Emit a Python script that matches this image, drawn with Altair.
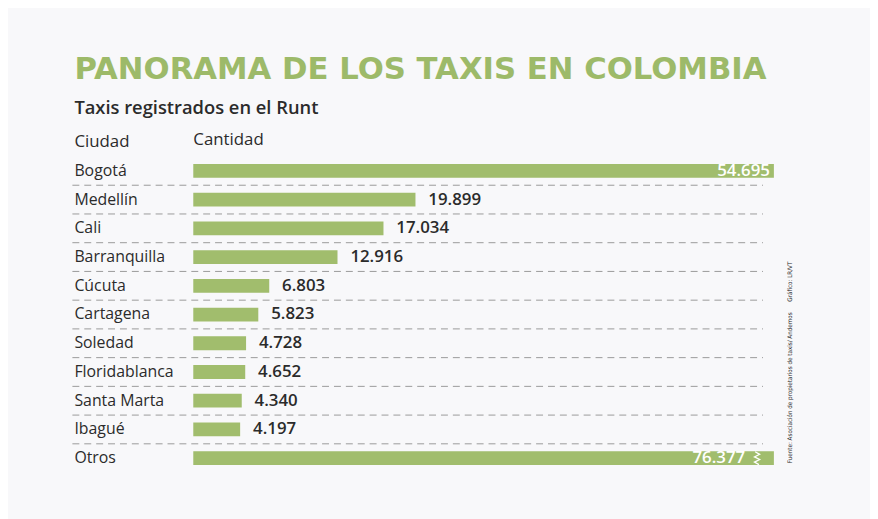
import altair as alt
import pandas as pd

cities = ["Bogotá", "Medellín", "Cali", "Barranquilla", "Cúcuta", "Cartagena",
          "Soledad", "Floridablanca", "Santa Marta", "Ibagué", "Otros"]
values = [54695, 19899, 17034, 12916, 6803, 5823, 4728, 4652, 4340, 4197, 76377]
inside = [True, False, False, False, False, False, False, False, False, False, True]
broken = [False, False, False, False, False, False, False, False, False, False, True]

title_text = "PANORAMA DE LOS TAXIS EN COLOMBIA"
subtitle_text = "Taxis registrados en el Runt"
col_city = "Ciudad"
col_qty = "Cantidad"
source_text = "Fuente: Asociación de propietarios de taxis/ Andemos"
credit_text = "Gráfico: LR/VT"

df = pd.DataFrame({
    "city": cities,
    "value": values,
    "label": [f"{v:,}".replace(",", ".") for v in values],
    "inside": inside,
    "broken": broken,
})

GREEN = "#a1bd6d"
TITLE_GREEN = "#9dba69"
TEXT = "#2b2b2b"
FONT = "Open Sans"
NARROW = "'Liberation Sans Narrow', 'DejaVu Sans Condensed', 'Roboto Condensed', Roboto, sans-serif"

W, H = 870, 511

xscale = alt.Scale(domain=[0, 52000], range=[187, 773], clamp=True)
yscale = alt.Scale(domain=cities, range=[147.5, 466.5], paddingInner=0.52, paddingOuter=0.26)

base = alt.Chart(df)
X = alt.X("value:Q", scale=xscale, axis=None)
Y = alt.Y("city:N", scale=yscale, axis=None, sort=cities)

bars = base.mark_bar(color=GREEN).encode(x=X, x2=alt.value(187), y=Y)

rules = base.transform_filter("datum.city != 'Otros'").mark_rule(
    color="#9a9a9a", strokeWidth=1, strokeDash=[7, 5], yOffset=14.5
).encode(y=Y, x=alt.value(65), x2=alt.value(762))

city_labels = base.mark_text(align="left", baseline="middle", font=FONT, fontSize=16,
                             color=TEXT).encode(y=Y, x=alt.value(67), text="city:N")

out_labels = base.transform_filter("!datum.inside").mark_text(
    align="left", baseline="middle", font=FONT, fontSize=17, fontWeight=600, color=TEXT, dx=13
).encode(x=X, y=Y, text="label:N")

in_labels = base.transform_filter("datum.inside && !datum.broken").mark_text(
    align="right", baseline="middle", font=FONT, fontSize=17, fontWeight=600, color="white", dx=-4
).encode(x=X, y=Y, text="label:N")

broken_labels = base.transform_filter("datum.broken").mark_text(
    align="right", baseline="middle", font=FONT, fontSize=17, fontWeight=600, color="white", dx=-29
).encode(x=X, y=Y, text="label:N")

zigzag = base.transform_filter("datum.broken").mark_point(
    shape="M-0.3,-1 L0.4,-0.6 L-0.4,-0.2 L0.4,0.2 L-0.4,0.6 L0.3,1",
    filled=False, stroke="white", strokeWidth=1.3, size=170, opacity=1, xOffset=-17
).encode(x=X, y=Y)

ann = alt.Chart(pd.DataFrame({"d": [0]}))

title = ann.mark_text(align="left", baseline="middle", font="DejaVu Sans", fontSize=31,
                      fontWeight="bold", color=TITLE_GREEN, text=title_text).encode(
    x=alt.value(67), y=alt.value(60))
subtitle = ann.mark_text(align="left", baseline="middle", font=FONT, fontSize=18.5,
                         fontWeight=600, color=TEXT, text=subtitle_text).encode(
    x=alt.value(67), y=alt.value(99))
h_city = ann.mark_text(align="left", baseline="middle", font=FONT, fontSize=17,
                       color=TEXT, text=col_city).encode(x=alt.value(67), y=alt.value(133))
h_qty = ann.mark_text(align="left", baseline="middle", font=FONT, fontSize=17,
                      color=TEXT, text=col_qty).encode(x=alt.value(187), y=alt.value(131))
src = ann.mark_text(align="left", baseline="middle", font=NARROW, fontSize=6.3,
                    angle=270, color=TEXT, text=source_text).encode(x=alt.value(789), y=alt.value(457))
cred = ann.mark_text(align="left", baseline="middle", font=NARROW, fontSize=6.3,
                     angle=270, color=TEXT, text=credit_text).encode(x=alt.value(789), y=alt.value(294))

chart = alt.layer(rules, bars, city_labels, out_labels, in_labels, broken_labels, zigzag,
                  title, subtitle, h_city, h_qty, src, cred).properties(
    width=W, height=H,
    autosize=alt.AutoSizeParams(type="none"),
    padding=0,
    background="#f8f8fa",
).configure_view(strokeWidth=0)

chart.save("out.html", embed_options={"renderer": "svg", "actions": False})
